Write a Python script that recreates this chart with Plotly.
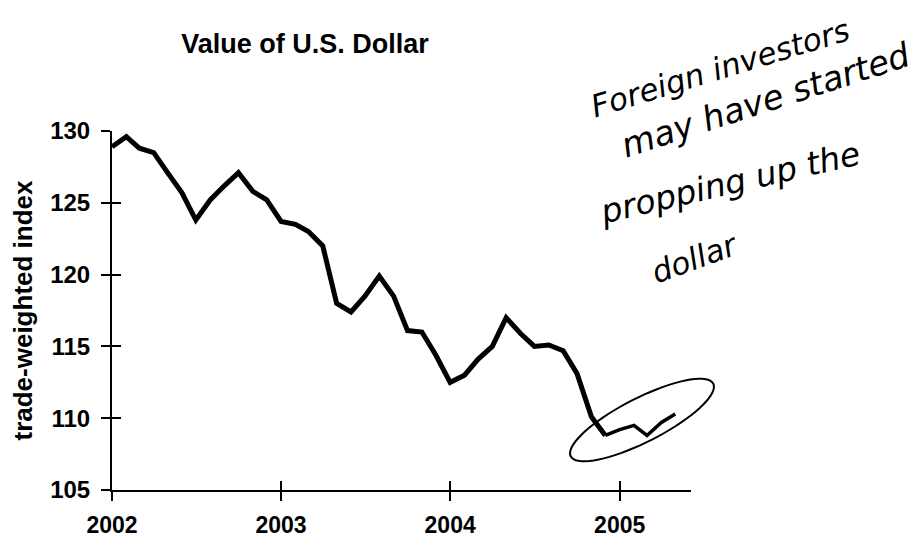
import numpy as np
import pandas as pd
import plotly.graph_objects as go

# ---- data ----
months = pd.date_range("2002-01-01", "2005-05-01", freq="MS")
values = [
    128.9, 129.6, 128.8, 128.5, 127.1, 125.7, 123.8, 125.2, 126.2, 127.1, 125.8, 125.2,   # 2002
    123.7, 123.5, 123.0, 122.0, 118.0, 117.4, 118.5, 119.9, 118.5, 116.1, 116.0, 114.4,   # 2003
    112.5, 113.0, 114.1, 115.0, 117.0, 115.9, 115.0, 115.1, 114.7, 113.1, 110.1, 108.8,   # 2004
    109.2, 109.5, 108.8, 109.7, 110.3,                                                     # 2005
]
year_ticks = ["2002-01-01", "2003-01-01", "2004-01-01", "2005-01-01"]
year_labels = ["2002", "2003", "2004", "2005"]
y_ticks = [105, 110, 115, 120, 125, 130]

title_text = "Value of U.S. Dollar"
y_title = "trade-weighted index"
note_lines = ["Foreign investors", "may have started", "propping up the", "dollar"]

# printed series through Dec 2004, hand-drawn continuation afterwards
split = 36
x_main, y_main = months[:split], values[:split]
x_hand, y_hand = months[split - 1:], values[split - 1:]

FONT = "Liberation Sans, Arial, sans-serif"
HAND = "DejaVu Sans, sans-serif"

# page body has an 8px margin -> figure is 8px smaller and offset
W, H = 911, 534
L, T = 104, 123          # plot area left/top inside the figure
PW, PH = 579, 359        # plot area size

fig = go.Figure()
fig.add_trace(go.Scatter(x=x_main, y=y_main, mode="lines",
                         line=dict(color="black", width=5), showlegend=False,
                         hoverinfo="skip"))
fig.add_trace(go.Scatter(x=x_hand, y=y_hand, mode="lines",
                         line=dict(color="black", width=3.5), showlegend=False,
                         hoverinfo="skip"))
# dummy trace to activate the overlay axes (inside half of crossing ticks)
fig.add_trace(go.Scatter(x=months, y=values, mode="lines", xaxis="x2", yaxis="y2",
                         line=dict(color="rgba(0,0,0,0)", width=0), showlegend=False,
                         hoverinfo="skip"))

xr = ["2002-01-01", "2005-06-04"]
yr = [105, 130]

common_x = dict(type="date", range=xr, tickvals=year_ticks, showgrid=False,
                zeroline=False, ticklen=9, tickwidth=2, tickcolor="black",
                automargin=False)
common_y = dict(range=yr, tickvals=y_ticks, showgrid=False, zeroline=False,
                ticklen=9, tickwidth=2, tickcolor="black", automargin=False)

fig.update_layout(
    width=W, height=H,
    margin=dict(l=L, r=W - L - PW, t=T, b=H - T - PH, autoexpand=False),
    paper_bgcolor="white", plot_bgcolor="white",
    title=dict(text=title_text, x=297 / W, xref="container", xanchor="center",
               y=1 - 36 / H, yref="container", yanchor="middle",
               font=dict(family=FONT, size=27, color="black", weight="bold")),
    xaxis=dict(**common_x, ticktext=year_labels, ticks="outside",
               showline=True, linecolor="black", linewidth=2,
               tickfont=dict(family=FONT, size=23, color="black", weight="bold"),
               ticklabelstandoff=4),
    yaxis=dict(**common_y, ticks="outside", showline=True, linecolor="black",
               linewidth=2,
               tickfont=dict(family=FONT, size=24, color="black", weight="bold"),
               ticklabelstandoff=6,
               title=dict(text=y_title, standoff=10,
                          font=dict(family=FONT, size=26, color="black", weight="bold"))),
    xaxis2=dict(**common_x, overlaying="x", anchor="y2", ticks="inside",
                showticklabels=False, showline=False),
    yaxis2=dict(**common_y, overlaying="y", anchor="x2", side="left", ticks="inside",
                showticklabels=False, showline=False),
)

# handwritten note (positions given in page pixels of the 919x542 view)
def px_to_paper(px, py):
    return (px - 112) / PW, (490 - py) / PH

note_pos = [(720, 68, -17, 31), (765, 100, -18, 34), (730, 182, -13, 33), (695, 258, -20, 31)]
for txt, (px, py, ang, sz) in zip(note_lines, note_pos):
    xp, yp = px_to_paper(px, py)
    fig.add_annotation(text=txt, x=xp, y=yp, xref="paper", yref="paper",
                       showarrow=False, textangle=ang, xanchor="center", yanchor="middle",
                       font=dict(family=HAND, size=sz, color="black", style="italic"))

# hand-drawn ellipse around the 2005 values
t = np.linspace(0, 2 * np.pi, 73)
a, b, rot = 80, 22, np.deg2rad(27)
ex = a * np.cos(t) * np.cos(rot) - b * np.sin(t) * np.sin(rot)
ey = a * np.cos(t) * np.sin(rot) + b * np.sin(t) * np.cos(rot)
path = "M " + " L ".join(f"{u:.1f},{v:.1f}" for u, v in zip(ex, ey)) + " Z"
cx, cy = px_to_paper(642, 420)
fig.add_shape(type="path", path=path, xref="paper", yref="paper",
              xsizemode="pixel", ysizemode="pixel",
              xanchor=cx, yanchor=cy,
              line=dict(color="black", width=2))

fig.write_html("out.html")
